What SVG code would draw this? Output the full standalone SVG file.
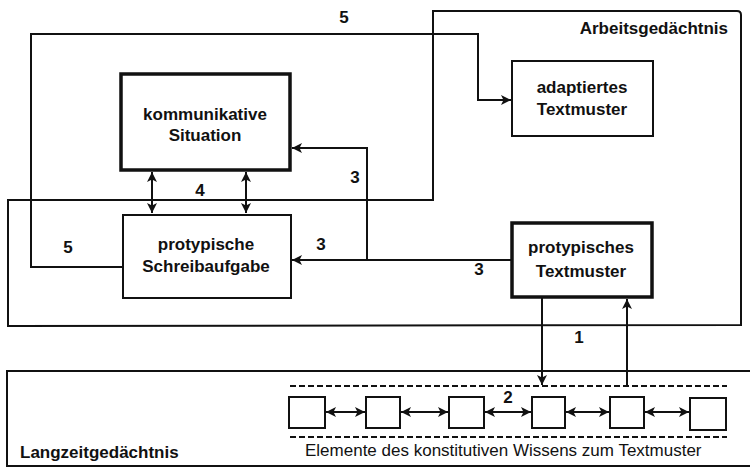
<svg xmlns="http://www.w3.org/2000/svg" width="750" height="468" viewBox="0 0 750 468">
<defs>
<marker id="ah" viewBox="0 0 10 10" refX="10" refY="5" markerWidth="11" markerHeight="10" markerUnits="userSpaceOnUse" orient="auto-start-reverse">
<path d="M0,0 L10,5 L0,10 L2.5,5 Z" fill="#111"/>
</marker>
</defs>
<style>
.bg{fill:#fff}
.frame{fill:none;stroke:#111;stroke-width:2}
.box{fill:#fff;stroke:#111;stroke-width:2}
.thick{fill:#fff;stroke:#111;stroke-width:3.5}
.sq{fill:#fff;stroke:#111;stroke-width:2}
.c{fill:none;stroke:#111;stroke-width:2}
.a{marker-end:url(#ah)}
.d{marker-start:url(#ah);marker-end:url(#ah)}
.dash{fill:none;stroke:#111;stroke-width:2;stroke-dasharray:6 3}
text{font-family:"Liberation Sans",Arial,sans-serif;fill:#111}
.t{font-size:17px;font-weight:bold;text-anchor:middle}
.n{font-size:17px;font-weight:bold;text-anchor:middle}
.lbl{font-size:17px;font-weight:bold}
.cap{font-size:17px}
</style>
<rect class="bg" x="0" y="0" width="750" height="468"/>

<g id="arbeitsgedaechtnis">
<path class="frame" d="M8,326 V200 H433 V11 H737 Q741,11 741,15 V325 Z"/>
<text class="lbl" x="728" y="34" text-anchor="end">Arbeitsgedächtnis</text>
</g>

<g id="langzeitgedaechtnis">
<path class="frame" d="M752,371 H7 V466 H752"/>
<text class="lbl" x="20" y="458">Langzeitgedächtnis</text>
</g>

<g id="connectors">
<path class="c a" d="M123,267 H31 V34 H478 V100 H511"/>
<path class="c d" d="M152,172 V213"/>
<path class="c d" d="M246,172 V213"/>
<path class="c a" d="M511,260 H292"/>
<path class="c a" d="M367,260 V148 H292"/>
<path class="c a" d="M542,298 V385"/>
<path class="c a" d="M627,386 V299"/>
<path class="c d" d="M326,412 H365"/>
<path class="c d" d="M401,412 H448"/>
<path class="c d" d="M485,412 H531"/>
<path class="c d" d="M566,412 H609"/>
<path class="c d" d="M645,412 H689"/>
<text class="n" x="344" y="23">5</text>
<text class="n" x="68" y="253">5</text>
<text class="n" x="200" y="196">4</text>
<text class="n" x="355" y="183">3</text>
<text class="n" x="321" y="250">3</text>
<text class="n" x="479" y="275">3</text>
<text class="n" x="579" y="343">1</text>
<text class="n" x="508" y="403">2</text>
</g>

<g id="kommunikative-situation">
<rect class="thick" x="121" y="74" width="169" height="96"/>
<text class="t" x="205" y="120">kommunikative</text>
<text class="t" x="205" y="141">Situation</text>
</g>

<g id="adaptiertes-textmuster">
<rect class="box" x="512" y="61" width="141" height="75"/>
<text class="t" x="582" y="93">adaptiertes</text>
<text class="t" x="582" y="115">Textmuster</text>
</g>

<g id="protypische-schreibaufgabe">
<rect class="box" x="123" y="215" width="168" height="83"/>
<text class="t" x="206" y="250">protypische</text>
<text class="t" x="206" y="272">Schreibaufgabe</text>
</g>

<g id="protypisches-textmuster">
<rect class="thick" x="512" y="223" width="140" height="74"/>
<text class="t" x="581" y="253">protypisches</text>
<text class="t" x="581" y="277">Textmuster</text>
</g>

<g id="elemente">
<path class="dash" d="M290,386 H727"/>
<path class="dash" d="M290,437 H727"/>
<rect class="sq" x="289" y="397" width="36" height="31"/>
<rect class="sq" x="366" y="397" width="34" height="31"/>
<rect class="sq" x="449" y="397" width="35" height="31"/>
<rect class="sq" x="532" y="397" width="33" height="31"/>
<rect class="sq" x="610" y="397" width="34" height="31"/>
<rect class="sq" x="690" y="398" width="36" height="32"/>
<text class="cap" x="305" y="456">Elemente des konstitutiven Wissens zum Textmuster</text>
</g>
</svg>
